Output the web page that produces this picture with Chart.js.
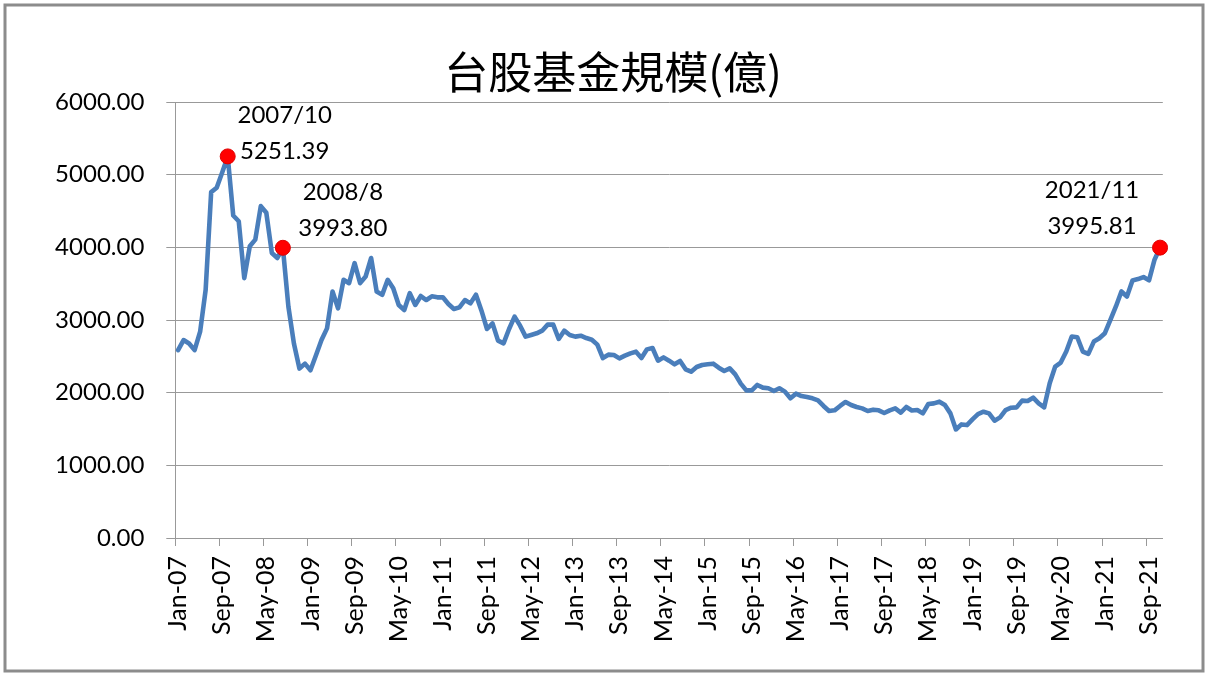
<!DOCTYPE html>
<html>
<head>
<meta charset="utf-8">
<script src="https://cdn.jsdelivr.net/npm/chart.js@4.4.1/dist/chart.umd.min.js"></script>
<style>
html,body{margin:0;padding:0;background:#fff}
#wrap{width:1210px;height:678px}
</style>
</head>
<body>
<div id="wrap"><canvas id="fund-chart" width="1210" height="678"></canvas></div>
<script>
// ---- data (monthly, Jan-07 .. Nov-21) ----
const monthNames=['Jan','Feb','Mar','Apr','May','Jun','Jul','Aug','Sep','Oct','Nov','Dec'];
const firstYear=2007, lastYear=2021, lastMonth=11;
const labels=[];
for(let y=firstYear;y<=lastYear;y++){
  for(let m=0;m<12;m++){
    if(y===lastYear&&m>=lastMonth) break;
    labels.push(monthNames[m]+'-'+String(y).slice(2));
  }
}

const fundSize=[
  2585,2724,2677,2585,2839,3415,4760,4820,5030,5251.39,4438,4359,
  3576,4014,4106,4567,4475,3922,3853,3993.80,3184,2677,2332,2400,
  2309,2516,2724,2885,3392,3161,3553,3507,3783,3507,3599,3853,
  3392,3346,3553,3438,3207,3138,3369,3207,3330,3275,3326,3312,
  3312,3220,3151,3174,3275,3229,3349,3128,2876,2954,2716,2679,
  2876,3046,2922,2771,2794,2817,2853,2936,2936,2739,2853,2794,
  2771,2784,2752,2729,2661,2477,2523,2518,2472,2509,2541,2564,
  2477,2596,2615,2440,2486,2440,2390,2436,2321,2289,2353,2381,
  2390,2399,2344,2298,2335,2252,2124,2032,2032,2106,2069,2060,
  2023,2060,2014,1922,1986,1954,1940,1922,1894,1817,1748,1757,
  1817,1872,1830,1803,1784,1748,1766,1757,1720,1757,1784,1725,
  1803,1755,1761,1715,1844,1853,1876,1830,1715,1494,1563,1554,
  1632,1706,1738,1715,1614,1660,1761,1793,1798,1890,1885,1931,
  1853,1798,2129,2359,2414,2566,2772,2763,2566,2533,2703,2749,
  2818,3002,3186,3393,3324,3545,3563,3591,3545,3830,3995.81
];

// highlighted points
const noteIdx=[9,19,178];
const noteDate=['2007/10','2008/8','2021/11'];

const titleText='台股基金規模(億)';

// ---- plugins ----
const framePlugin={
  id:'frame',
  beforeDraw(chart){
    const c=chart.ctx;
    c.save();
    c.fillStyle='#fff'; c.fillRect(0,0,chart.width,chart.height);
    c.restore();
  },
  afterDraw(chart){
    const c=chart.ctx;
    c.save();
    c.strokeStyle='#8c8c8c'; c.lineWidth=3;
    c.strokeRect(5,5,1198,666);
    c.font='44px "Noto Sans CJK TC"';
    c.fillStyle='#000'; c.textAlign='center'; c.textBaseline='middle';
    c.fillText(titleText,613,72);
    c.restore();
  }
};

const noteOffset=[[57,-41,-5],[60,-56,-20],[-68,-57,-21]];
const notePlugin={
  id:'notes',
  afterDatasetsDraw(chart){
    const meta=chart.getDatasetMeta(0), c=chart.ctx;
    c.save();
    c.font='24px Lato'; c.fillStyle='#000';
    c.textAlign='center'; c.textBaseline='middle';
    noteIdx.forEach((idx,k)=>{
      const p=meta.data[idx]; if(!p) return;
      const o=noteOffset[k];
      c.fillText(noteDate[k],p.x+o[0],p.y+o[1]);
      c.fillText(fundSize[idx].toFixed(2),p.x+o[0],p.y+o[2]);
    });
    c.restore();
  }
};

Chart.defaults.font.family='Lato';
Chart.defaults.color='#000';

new Chart(document.getElementById('fund-chart'),{
  type:'line',
  data:{labels:labels,datasets:[{
    label:'台股基金規模',
    data:fundSize,
    borderColor:'#4a7ebb',
    borderWidth:4.6,
    borderJoinStyle:'round',
    borderCapStyle:'round',
    tension:0,
    pointRadius:c=>noteIdx.includes(c.dataIndex)?7.5:0,
    pointHoverRadius:0,
    pointBackgroundColor:'#ff0000',
    pointBorderColor:'#e00000',
    pointBorderWidth:1
  }]},
  options:{
    responsive:false,
    animation:false,
    devicePixelRatio:1,
    layout:{padding:{top:102,right:47.2,left:0,bottom:0}},
    plugins:{legend:{display:false},tooltip:{enabled:false},title:{display:false}},
    scales:{
      x:{
        type:'category',
        offset:true,
        grid:{offset:true,drawOnChartArea:false,tickLength:8,lineWidth:1,
          tickColor:c=>c.index%8===0?'#999':'rgba(0,0,0,0)'},
        border:{display:true,color:'#999',width:1},
        ticks:{autoSkip:false,minRotation:90,maxRotation:90,padding:10,color:'#000',font:{size:25},
          callback:(v,i)=>i%8===0?labels[i]:''},
        afterFit:s=>{s.height=140;}
      },
      y:{
        min:0,max:6000,
        grid:{color:'#999',lineWidth:1,tickLength:9},
        border:{display:true,color:'#999',width:1},
        ticks:{stepSize:1000,padding:22,color:'#000',font:{size:24},callback:v=>Number(v).toFixed(2)},
        afterFit:s=>{s.width=175.3;}
      }
    }
  },
  plugins:[framePlugin,notePlugin]
});
</script>
</body>
</html>
